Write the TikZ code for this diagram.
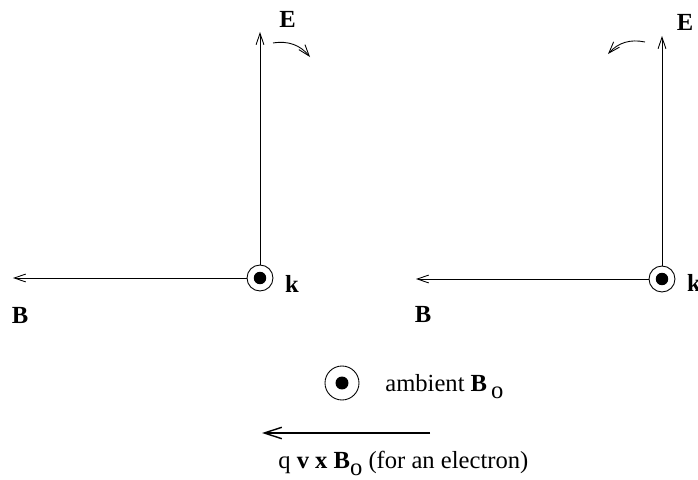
\documentclass[tikz,border=0pt]{standalone}
\usepackage{fontspec}
\setmainfont{Liberation Serif}
\usetikzlibrary{arrows.meta}

\begin{document}
\begin{tikzpicture}[x=0.02cm,y=-0.02cm,>={Straight Barb[length=6.5pt,width=4.5pt]},
  vec/.style={->,line width=0.5pt},
  ring/.style={circle,draw,line width=0.5pt,inner sep=0pt,minimum size=0.52cm},
  dot/.style={circle,fill,inner sep=0pt,minimum size=0.25cm},
  lbl/.style={font=\fontsize{14}{16}\selectfont\bfseries},
  txt/.style={font=\fontsize{14}{16}\selectfont,anchor=base west,inner sep=0pt}]
\useasboundingbox (0,0) rectangle (698,480);
% left panel
\node[ring] (kl) at (260,278){};
\node[dot] at (kl){};
\coordinate (el) at (260,32);
\coordinate (bl) at (13,278);
\draw[vec] (kl.north)--(el);
\draw[vec] (kl.west)--(bl);
\node[lbl] (elab) at (287.5,19){E};
\node[lbl] (blab) at (20,315){B};
\node[lbl] (klab) at (292,284){k};
\coordinate (rl1) at (273,43);
\coordinate (rl2) at (310,57);
\draw[vec] (rl1) to[bend left=30] (rl2);
% right panel
\node[ring] (kr) at (662,279){};
\node[dot] at (kr){};
\coordinate (er) at (662,36);
\coordinate (br) at (416,279);
\draw[vec] (kr.north)--(er);
\draw[vec] (kr.west)--(br);
\node[lbl] (elab2) at (685,22){E};
\node[lbl] (blab2) at (423,314){B};
\node[lbl] (klab2) at (694,283){k};
\coordinate (rr1) at (645,42);
\coordinate (rr2) at (608,54);
\draw[vec] (rr1) to[bend right=30] (rr2);
% legend
\node[ring,minimum size=0.68cm] (amb) at (342,383){};
\node[dot,minimum size=0.26cm] at (amb){};
\node[txt] (ambtxt) at (385,392){ambient \textbf{B}\,\raisebox{-3.5pt}{o}};
\coordinate (fa) at (430,433);
\coordinate (fb) at (262,433);
\draw[->,line width=0.8pt,>={Straight Barb[length=10pt,width=6.5pt]}] (fa)--(fb);
\node[txt] (ftxt) at (278,468){q \textbf{v x B}\raisebox{-4pt}{o} (for an electron)};
\end{tikzpicture}
\end{document}
